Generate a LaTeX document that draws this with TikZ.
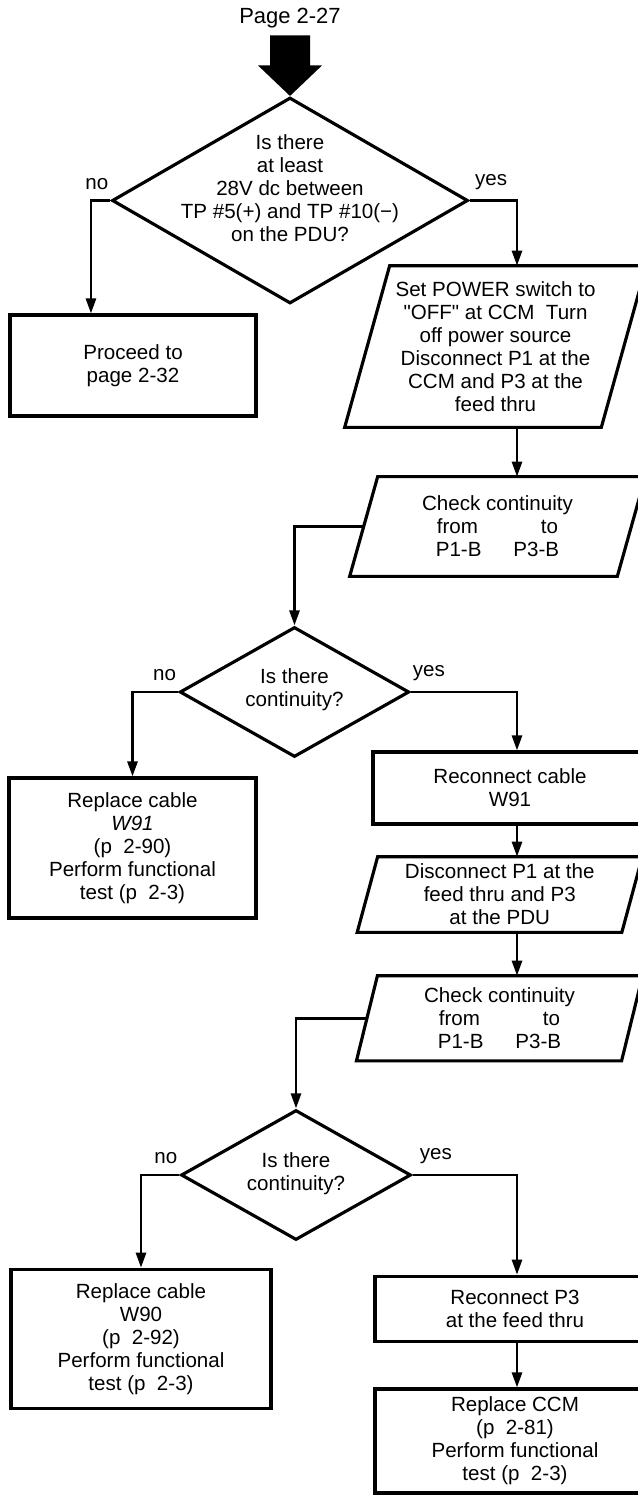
\documentclass[tikz,border=0pt]{standalone}
\usepackage{fontspec}
\setmainfont{Liberation Sans}[Ligatures=TeXOff]
\usetikzlibrary{arrows.meta,calc,shapes.geometric}

\begin{document}
\begin{tikzpicture}[x=0.02cm, y=-0.02cm, >={Triangle[length=0.3cm,width=0.2cm]},
  txt/.style={align=center, font=\fontsize{11.7}{13.1}\selectfont, inner sep=2pt},
  box/.style={txt, draw, line width=1.8pt, rectangle},
  io/.style={txt, rectangle},
  decision/.style={diamond, draw, line width=1.8pt, inner sep=0pt},
  flow/.style={->, line width=1.5pt},
  yesno/.style={font=\fontsize{11.7}{13.1}\selectfont, inner sep=1pt, yshift=5pt}]
\useasboundingbox (0,0) rectangle (637,1495);
\coordinate (spine) at (517,0);

% Entry
\node[txt, font=\fontsize{12.5}{14}\selectfont] (entry) at (290,18) {Page 2-27};

% Decision 1
\node[decision, minimum width=7.12cm, minimum height=4.12cm] (q1) at (290,200.5) {};
\node[txt] (q1txt) at (290,188) {Is there\\at least\\28V dc between\\TP \#5(+) and TP \#10(−)\\on the PDU?};
\fill (q1.north) -- ++(-32,-30.5) -- ++(12,0) -- ++(0,-30) -- ++(40,0) -- ++(0,30) -- ++(12,0) -- cycle;

% no -> proceed
\node[box, minimum width=4.92cm, minimum height=2.02cm] (proceed) at (133,365.5) {Proceed to\\page 2-32};
\draw[flow] (q1.west) -- ++(-19.5,0) coordinate (q1n) -- (q1n |- proceed.north);
\node[yesno, above left] (q1no) at (q1.west) {no};

% yes -> power off, check W91
\node[io, minimum width=5.12cm, minimum height=3.22cm] (setp) at (495.5,346.5) {Set POWER switch to\\"OFF" at CCM~ Turn\\off power source\\Disconnect P1 at the\\CCM and P3 at the\\feed thru};
\node[io, minimum width=5.34cm, minimum height=1.98cm] (chk1) at (497.5,526.5) {Check continuity\\from\hspace{1.26cm}to\\P1-B\hspace{0.64cm}P3-B};
\draw[flow] (q1.east) -| (spine |- setp.north);
\node[yesno, above right, xshift=2pt] (q1yes) at (q1.east) {yes};
\draw[flow] (spine |- setp.south) -- (spine |- chk1.north);

% Decision 2
\node[decision, minimum width=4.59cm, minimum height=2.6cm] (q2) at (294.5,692) {};
\node[txt] (q2txt) at (294.5,690) {Is there\\continuity?};
\draw[flow] (chk1.west) -| (q2.north);

\node[box, minimum width=4.94cm, minimum height=2.8cm] (repw91) at (132.5,848) {Replace cable\\\textit{W91}\\(p~ 2-90)\\Perform functional\\test (p~ 2-3)};
\node[box, minimum width=5.48cm, minimum height=1.44cm] (recw91) at (510,788) {Reconnect cable\\W91};
\draw[flow] (q2.west) -| (repw91.north);
\draw[flow] (q2.east) -| (spine |- recw91.north);
\node[yesno, above left] (q2no) at (q2.west) {no};
\node[yesno, above right] (q2yes) at (q2.east) {yes};

% check W90
\node[io, minimum width=5.28cm, minimum height=1.5cm] (disc) at (499.75,894.5) {Disconnect P1 at the\\feed thru and P3\\at the PDU};
\node[io, minimum width=5.29cm, minimum height=1.69cm] (chk2) at (499.5,1018.3) {Check continuity\\from\hspace{1.26cm}to\\P1-B\hspace{0.64cm}P3-B};
\draw[flow] (spine |- recw91.south) -- (spine |- disc.north);
\draw[flow] (spine |- disc.south) -- (spine |- chk2.north);

% slanted outlines
\foreach \n/\d in {setp/22.5, chk1/14, disc/10.25, chk2/10.5}
  \draw[line width=1.8pt] ($(\n.north west)+(\d,0)$) -- ($(\n.north east)+(\d,0)$) -- ($(\n.south east)-(\d,0)$) -- ($(\n.south west)-(\d,0)$) -- cycle;

% Decision 3
\node[decision, minimum width=4.6cm, minimum height=2.6cm] (q3) at (296,1175) {};
\node[txt] (q3txt) at (296,1173.5) {Is there\\continuity?};
\draw[flow] (chk2.west) -| (q3.north);

\node[box, minimum width=5.2cm, minimum height=2.79cm] (repw90) at (141,1339) {Replace cable\\W90\\(p~ 2-92)\\Perform functional\\test (p~ 2-3)};
\node[box, minimum width=5.6cm, minimum height=1.31cm] (recp3) at (515,1309) {Reconnect P3\\at the feed thru};
\node[box, minimum width=5.6cm, minimum height=2.08cm] (repccm) at (515,1441) {Replace CCM\\(p~ 2-81)\\Perform functional\\test (p~ 2-3)};
\draw[flow] (q3.west) -| (repw90.north);
\draw[flow] (q3.east) -| (spine |- recp3.north);
\draw[flow] (spine |- recp3.south) -- (spine |- repccm.north);
\node[yesno, above left] (q3no) at (q3.west) {no};
\node[yesno, above right, xshift=3pt] (q3yes) at (q3.east) {yes};
\end{tikzpicture}
\end{document}
